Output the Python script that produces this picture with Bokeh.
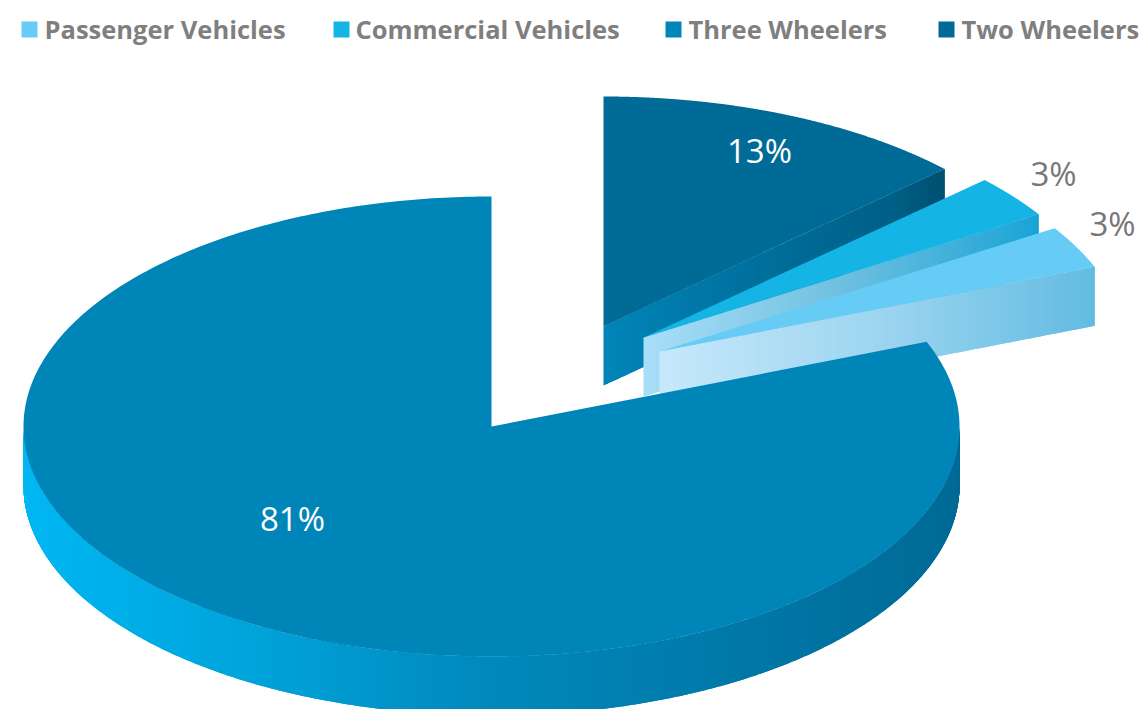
import numpy as np
from bokeh.core.properties import value
from bokeh.embed import file_html
from bokeh.models import ColumnDataSource, Range1d
from bokeh.plotting import figure
from bokeh.resources import INLINE

# Share of each vehicle segment, in percent
categories = ["Passenger Vehicles", "Commercial Vehicles", "Three Wheelers", "Two Wheelers"]
shares = [3, 3, 81, 13]
share_labels = ["3%", "3%", "81%", "13%"]

# Colours per segment
top_colors = ["#66CCF5", "#14B4E4", "#0085B9", "#006B96"]
side_ramps = [
    [(0.0, "#C6E8FA"), (0.5, "#9DD5F0"), (1.0, "#62BBE2")],
    [(0.0, "#A9DEF8"), (0.5, "#6FC0E0"), (1.0, "#19A4D6")],
    [(0.0, "#00B7F3"), (0.25, "#00A3DA"), (0.5, "#0088BC"), (0.75, "#0079A8"), (1.0, "#006A97")],
    [(0.0, "#0085B9"), (0.45, "#006F9D"), (0.85, "#005F85"), (1.0, "#004F6F")],
]

# Pie geometry in page pixels
RX, RY, DEPTH = 468, 230, 59
centers = {
    "Two Wheelers": (603, 326),
    "Commercial Vehicles": (643, 337),
    "Passenger Vehicles": (659, 351),
    "Three Wheelers": (491, 426),
}
label_pos = {
    "Two Wheelers": (759, 150, "#FFFFFF"),
    "Commercial Vehicles": (1053, 173, "#77777A"),
    "Passenger Vehicles": (1112, 223, "#77777A"),
    "Three Wheelers": (292, 518, "#FFFFFF"),
}
legend_swatch_x = [29, 341, 673, 946]
legend_text_x = [44, 355, 688, 961]


def hex_rgb(c):
    return np.array([int(c[i:i + 2], 16) for i in (1, 3, 5)], dtype=float)


def ramp_color(ramp, f):
    f = min(max(f, 0.0), 1.0)
    for (f0, c0), (f1, c1) in zip(ramp, ramp[1:]):
        if f <= f1:
            t = (f - f0) / (f1 - f0)
            rgb = hex_rgb(c0) * (1 - t) + hex_rgb(c1) * t
            return "#%02x%02x%02x" % tuple(int(round(v)) for v in rgb)
    return ramp[-1][1]


def rim(center, a0, a1, n=160):
    ang = np.radians(np.linspace(a0, a1, n))
    return center[0] + RX * np.cos(ang), center[1] - RY * np.sin(ang)


def band(p, xs, ys, ramp):
    """Fill the wall under a top edge with vertical strips following a colour ramp."""
    order = np.argsort(xs)
    xs, ys = np.asarray(xs)[order], np.asarray(ys)[order]
    span = xs[-1] - xs[0]
    px, py, col = [], [], []
    # Each strip runs past the start of the next one so no hairline shows between them
    for i in range(len(xs) - 1):
        j = min(np.searchsorted(xs, xs[i + 1] + 1.5), len(xs) - 1)
        seg_x = list(xs[i:j + 1])
        seg_y = list(ys[i:j + 1])
        px.append(seg_x + seg_x[::-1])
        py.append(seg_y + [v + DEPTH for v in seg_y[::-1]])
        col.append(ramp_color(ramp, (xs[i] - xs[0]) / span))
    p.patches(px, py, fill_color=col, line_color=None)


p = figure(width=1144, height=709, x_range=Range1d(0, 1144), y_range=Range1d(709, 0),
           output_backend="svg", toolbar_location=None, min_border=0,
           background_fill_color="#FFFFFF", border_fill_color="#FFFFFF", outline_line_color=None)
p.axis.visible = False
p.grid.visible = False

# Slice angles run clockwise from twelve o'clock
by_name = dict(zip(categories, shares))
draw_order = ["Two Wheelers", "Commercial Vehicles", "Passenger Vehicles", "Three Wheelers"]
angle = 90.0
spans = {}
for name in draw_order:
    sweep = by_name[name] * 3.6
    spans[name] = (angle, angle - sweep)
    angle -= sweep

for name in draw_order:
    i = categories.index(name)
    c = centers[name]
    a0, a1 = spans[name]
    if name == "Three Wheelers":
        # Only the front half of the rim shows a wall
        xs, ys = rim(c, 180, 360, 500)
    else:
        # Wedges show their lower cut face
        ex, ey = rim(c, a1, a1, 1)
        xs = np.linspace(c[0], ex[0], 120)
        ys = np.linspace(c[1], ey[0], 120)
    band(p, xs, ys, side_ramps[i])
    rx, ry = rim(c, a0, a1, 400)
    p.patch(np.r_[c[0], rx], np.r_[c[1], ry], fill_color=top_colors[i], line_color=None)

# Value labels
lab = ColumnDataSource(dict(
    x=[label_pos[n][0] for n in categories],
    y=[label_pos[n][1] for n in categories],
    t=share_labels,
    c=[label_pos[n][2] for n in categories],
))
p.text("x", "y", text="t", source=lab, text_color="c", text_font=value("Open Sans"),
       text_font_size="33px", text_align="center", text_baseline="middle")

# Legend row
p.scatter(legend_swatch_x, [29] * 4, marker="square", size=16, fill_color=top_colors, line_color=None)
leg = ColumnDataSource(dict(x=legend_text_x, y=[28] * 4, t=categories))
p.text("x", "y", text="t", source=leg, text_color="#7F7F7F", text_font=value("Open Sans"),
       text_font_style="bold", text_font_size="25.5px", text_align="left", text_baseline="middle")

open("out.html", "w").write(file_html(p, INLINE))
